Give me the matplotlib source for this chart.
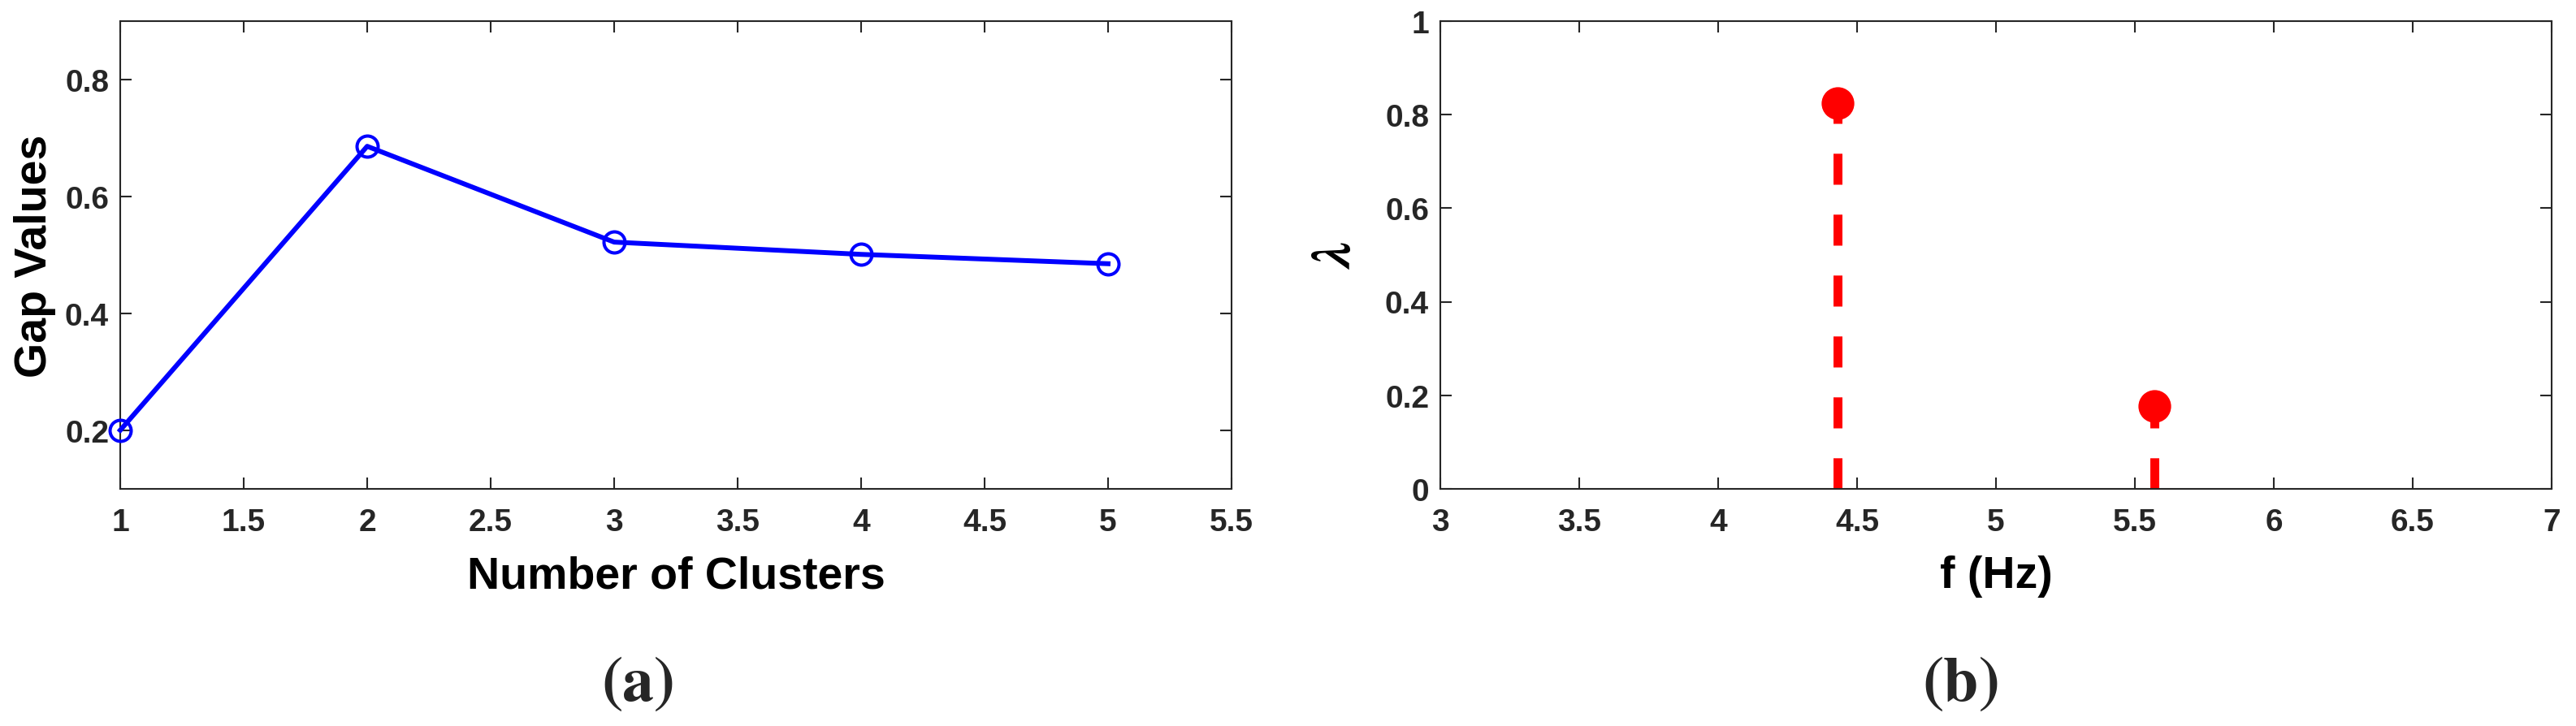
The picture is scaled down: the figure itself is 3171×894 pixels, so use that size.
import matplotlib
matplotlib.use("Agg")
import matplotlib.pyplot as plt
from matplotlib.ticker import FormatStrFormatter

# ---- data ----
clusters = [1, 2, 3, 4, 5]
gap_values = [0.200, 0.686, 0.522, 0.501, 0.485]

freqs = [4.43, 5.57]
lambdas = [0.825, 0.176]

left_xticks = [1, 1.5, 2, 2.5, 3, 3.5, 4, 4.5, 5, 5.5]
left_yticks = [0.2, 0.4, 0.6, 0.8]
right_xticks = [3, 3.5, 4, 4.5, 5, 5.5, 6, 6.5, 7]
right_yticks = [0, 0.2, 0.4, 0.6, 0.8, 1]

TXT = "#262626"
plt.rcParams.update({
    "font.family": ["Liberation Sans", "DejaVu Sans"],
    "font.weight": "bold",
    "mathtext.fontset": "stix",
    "lines.scale_dashes": False,
    "axes.edgecolor": TXT,
    "axes.linewidth": 1.5,
    "xtick.color": TXT,
    "ytick.color": TXT,
    "text.color": TXT,
})

fig = plt.figure(figsize=(31.71, 8.95), dpi=100)
ax1 = fig.add_axes([148 / 3171, 1 - 602.7 / 895, 1368 / 3171, 575.5 / 895])
ax2 = fig.add_axes([1773 / 3171, 1 - 602.7 / 895, 1368 / 3171, 575.5 / 895])


def style(ax, xt, yt, xlim, ylim):
    ax.set_xlim(*xlim)
    ax.set_ylim(*ylim)
    ax.set_xticks(xt)
    ax.set_yticks(yt)
    ax.xaxis.set_major_formatter(FormatStrFormatter("%g"))
    ax.yaxis.set_major_formatter(FormatStrFormatter("%g"))
    ax.tick_params(direction="in", length=10, width=1.5, labelsize=28,
                   top=True, right=True)
    ax.tick_params(axis="x", pad=17)
    ax.tick_params(axis="y", pad=10)
    for lab in ax.get_xticklabels() + ax.get_yticklabels():
        lab.set_fontweight("bold")


# ---- panel (a) ----
ax1.plot(clusters, gap_values, color="#0000ff", lw=4.3, marker="o",
         ms=18.7, mfc="none", mec="#0000ff", mew=2.9, clip_on=False, zorder=3)
style(ax1, left_xticks, left_yticks, (1, 5.5), (0.1, 0.9))
ax1.set_xlabel("Number of Clusters", fontsize=40, fontweight="bold")
ax1.set_ylabel("Gap Values", fontsize=40, fontweight="bold")
ax1.xaxis.set_label_coords(0.5, -0.142)
ax1.yaxis.set_label_coords(-0.058, 0.5)

# ---- panel (b) ----
markerline, stemlines, baseline = ax2.stem(freqs, lambdas, basefmt=" ")
stemlines.set_color("#ff0000")
stemlines.set_linewidth(7.9)
stemlines.set_linestyle((0, (27.5, 26.5)))
stemlines.set_capstyle("butt")
markerline.set_color("#ff0000")
markerline.set_markersize(29)
markerline.set_markeredgewidth(0)
markerline.set_zorder(4)
style(ax2, right_xticks, right_yticks, (3, 7), (0, 1))
ax2.set_xlabel("f (Hz)", fontsize=40, fontweight="bold")
ax2.set_ylabel(r"$\lambda$", fontsize=48)
ax2.xaxis.set_label_coords(0.5, -0.142)
ax2.yaxis.set_label_coords(-0.071, 0.5)

# ---- captions ----
fig.text(785 / 3171, 1 - 842 / 895, r"$(\mathbf{a})$", fontsize=56,
         ha="center", va="center")
fig.text(2413 / 3171, 1 - 842 / 895, r"$(\mathbf{b})$", fontsize=56,
         ha="center", va="center")

fig.savefig("out.png", dpi=100)
